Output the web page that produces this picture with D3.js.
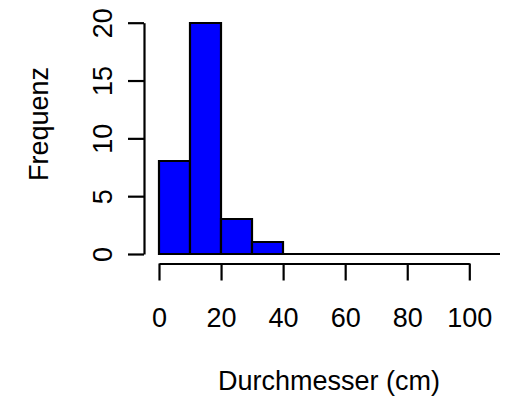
<!DOCTYPE html>
<html>
<head>
<meta charset="utf-8">
<script src="https://cdn.jsdelivr.net/npm/d3@7"></script>
<style>
  html, body { margin: 0; padding: 0; background: #fff; }
  svg text { font-family: "Liberation Sans", Arial, sans-serif; fill: #000; }
</style>
</head>
<body>
<div id="chart"></div>
<script>
/* histogram: Durchmesser, bins of 10 cm */
const breaks = [0, 10, 20, 30, 40, 50, 60, 70, 80, 90, 100, 110];
const counts = [8, 20, 3, 1, 0, 0, 0, 0, 0, 0, 0];
const xTicks = [0, 20, 40, 60, 80, 100];
const yTicks = [0, 5, 10, 15, 20];
const xTitle = 'Durchmesser (cm)';
const yTitle = 'Frequenz';

const W = 506, H = 398;
const FS = 27;

const svg = d3.select('#chart').append('svg')
  .attr('width', W).attr('height', H);

const x = d3.scaleLinear().domain([0, 100]).range([159, 469.3]);
const y = d3.scaleLinear().domain([0, 20]).range([254, 22.7]);
const rx = v => Math.round(x(v));
const ry = v => Math.round(y(v));

/* bars — paths so that empty bins still show as a line */
const bins = counts.map((c, i) => ({ x0: breaks[i], x1: breaks[i + 1], n: c }));
svg.selectAll('.bar')
  .data(bins).join('path')
  .attr('class', 'bar')
  .attr('d', d => `M${rx(d.x0)},${ry(0)}H${rx(d.x1)}V${ry(d.n)}H${rx(d.x0)}Z`)
  .attr('fill', '#0000ff')
  .attr('stroke', '#000')
  .attr('stroke-width', 2.2)
  .attr('stroke-linejoin', 'miter');

/* x axis (R style: detached, ticks down) */
const xAxisY = 263.5;
const xa = svg.append('g').attr('transform', `translate(0,${xAxisY})`)
  .call(d3.axisBottom(x).tickValues(xTicks).tickSize(17).tickSizeOuter(0).tickPadding(0));
xa.select('.domain').attr('stroke-width', 2.2);
xa.selectAll('.tick line').attr('stroke-width', 2.2);
xa.selectAll('.tick text').remove();
xa.selectAll('.tick').append('text')
  .attr('y', 327 - xAxisY)
  .attr('text-anchor', 'middle')
  .attr('font-size', FS)
  .text(d => d);

/* y axis */
const yAxisX = 144;
const ya = svg.append('g').attr('transform', `translate(${yAxisX},0)`)
  .call(d3.axisLeft(y).tickValues(yTicks).tickSize(16).tickSizeOuter(0));
ya.select('.domain').attr('stroke-width', 2.2);
ya.selectAll('.tick line').attr('stroke-width', 2.2);
ya.selectAll('.tick text').remove();
ya.selectAll('.tick').append('text')
  .attr('transform', `translate(${112 - yAxisX},0) rotate(-90)`)
  .attr('text-anchor', 'middle')
  .attr('font-size', FS)
  .text(d => d);

/* titles */
svg.append('text')
  .attr('x', 329).attr('y', 390)
  .attr('text-anchor', 'middle')
  .attr('font-size', FS)
  .text(xTitle);

svg.append('text')
  .attr('transform', `translate(48,124) rotate(-90)`)
  .attr('text-anchor', 'middle')
  .attr('font-size', FS)
  .text(yTitle);
</script>
</body>
</html>
